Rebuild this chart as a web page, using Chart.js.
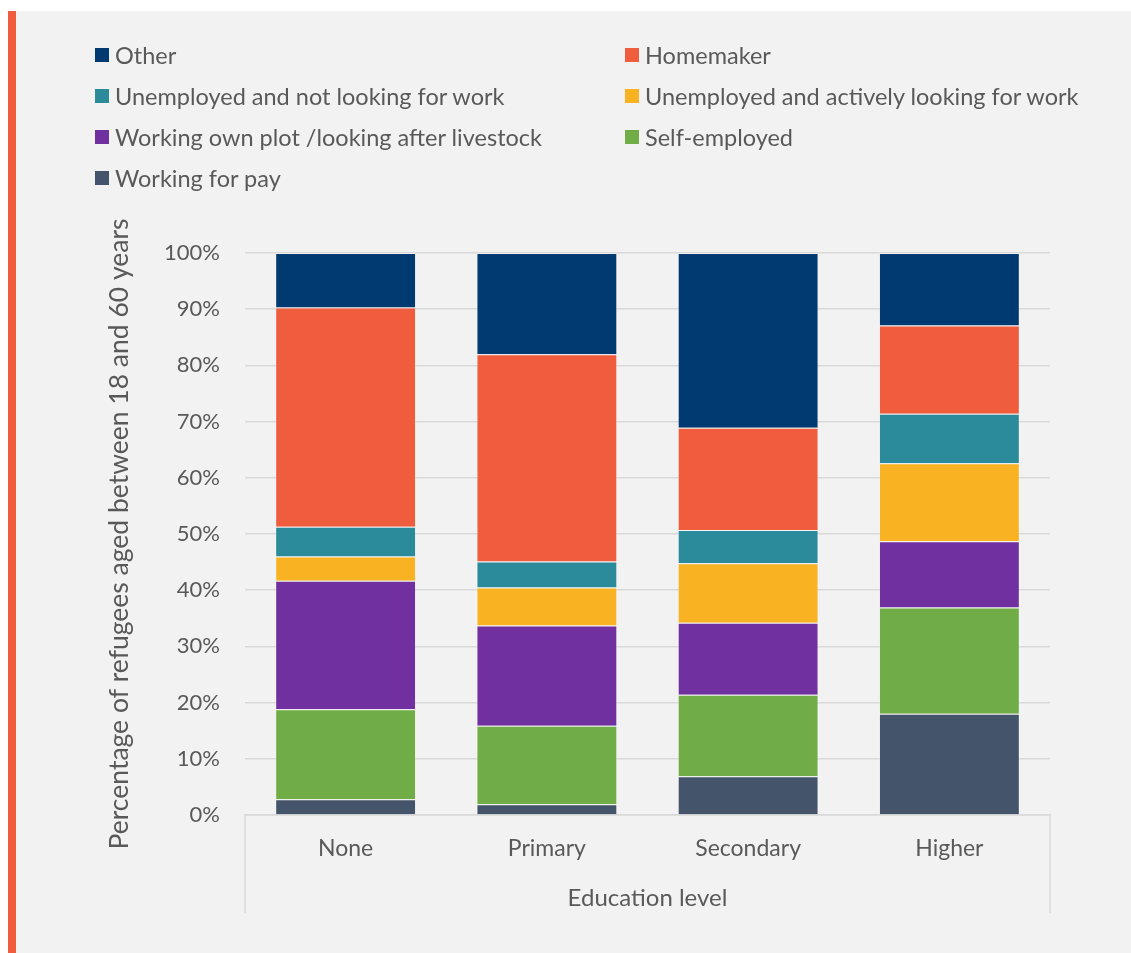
<!DOCTYPE html>
<html lang="en">
<head>
    <meta charset="UTF-8">
    <title>Activity by education level</title>
    <script src="https://cdn.jsdelivr.net/npm/chart.js@4.4.0/dist/chart.umd.min.js"></script>
    <style>
        body { margin: 0; background: #ffffff; font-family: Lato, sans-serif; }
        #stripe { position: absolute; left: 8px; top: 11px; width: 8px; height: 942px; background: #f05d3d; }
        #panel { position: absolute; left: 16px; top: 11px; width: 1115px; height: 942px; background: #f2f2f2; }
        #legend { position: absolute; left: 79px; top: 30px; width: 1030px; }
        .item { position: absolute; display: flex; align-items: center; font-size: 23.5px; color: #595959; white-space: nowrap; }
        .box { width: 14px; height: 14px; margin-right: 6px; }
    </style>
</head>
<body>
    <div id="stripe"></div>
    <div id="panel">
        <canvas id="canvas" width="1115" height="942"></canvas>
        <div id="legend"></div>
    </div>
    <script>
        const levels = ['None', 'Primary', 'Secondary', 'Higher']

        // percentages, bottom to top of each bar
        const workingForPay = [2.8, 1.9, 6.9, 18.0]
        const selfEmployed = [16.0, 14.0, 14.5, 18.9]
        const ownPlot = [22.9, 17.8, 12.8, 11.8]
        const activelyLooking = [4.3, 6.8, 10.6, 13.9]
        const notLooking = [5.3, 4.6, 5.9, 8.8]
        const homemaker = [39.0, 36.9, 18.2, 15.7]
        const other = [9.7, 18.0, 31.1, 12.9]

        const yTicks = [0, 10, 20, 30, 40, 50, 60, 70, 80, 90, 100]

        const series = [
            { label: 'Working for pay', data: workingForPay, color: '#44546a' },
            { label: 'Self-employed', data: selfEmployed, color: '#70ad47' },
            { label: 'Working own plot /looking after livestock', data: ownPlot, color: '#7030a0' },
            { label: 'Unemployed and actively looking for work', data: activelyLooking, color: '#f9b322' },
            { label: 'Unemployed and not looking for work', data: notLooking, color: '#2b8b9b' },
            { label: 'Homemaker', data: homemaker, color: '#f05d3d' },
            { label: 'Other', data: other, color: '#003a70' }
        ]

        const textColor = '#595959'
        const gridColor = '#d9d9d9'

        // legend: two columns, top series first
        const legend = document.getElementById('legend')
        series.slice().reverse().forEach((s, i) => {
            const el = document.createElement('div')
            el.className = 'item'
            el.style.left = (i % 2 === 0 ? 0 : 530) + 'px'
            el.style.top = (Math.floor(i / 2) * 41) + 'px'
            el.innerHTML = '<span class="box" style="background:' + s.color + '"></span>' + s.label
            legend.appendChild(el)
        })

        const categoryLines = {
            id: 'categoryLines',
            afterDraw: (chart) => {
                const ctx = chart.ctx
                const area = chart.chartArea
                ctx.save()
                ctx.strokeStyle = gridColor
                ctx.lineWidth = 1.5
                ctx.beginPath()
                ctx.moveTo(area.left, area.bottom)
                ctx.lineTo(area.left, area.bottom + 98)
                ctx.moveTo(area.right, area.bottom)
                ctx.lineTo(area.right, area.bottom + 98)
                ctx.stroke()
                ctx.restore()
            }
        }

        new Chart(document.getElementById('canvas').getContext('2d'), {
            type: 'bar',
            data: {
                labels: levels,
                datasets: series.map(s => ({
                    label: s.label,
                    data: s.data,
                    backgroundColor: s.color,
                    borderColor: 'rgba(255,255,255,0.3)',
                    borderWidth: 1,
                    categoryPercentage: 1,
                    barPercentage: 0.7
                }))
            },
            options: {
                responsive: false,
                animation: false,
                layout: { padding: { top: 242, right: 81, left: 0, bottom: 0 } },
                plugins: {
                    legend: { display: false },
                    tooltip: { enabled: false }
                },
                scales: {
                    x: {
                        stacked: true,
                        grid: { display: false },
                        border: { display: true, color: gridColor, width: 1.5 },
                        ticks: { color: textColor, padding: 12, font: { family: 'Lato', size: 23 } },
                        title: {
                            display: true,
                            text: 'Education level',
                            color: textColor,
                            font: { family: 'Lato', size: 24 },
                            padding: { top: 0, bottom: 40 }
                        },
                        afterFit: (scale) => { scale.height = 138 }
                    },
                    y: {
                        stacked: true,
                        min: 0,
                        max: 100,
                        afterBuildTicks: (scale) => { scale.ticks = yTicks.map(v => ({ value: v })) },
                        grid: { color: gridColor, lineWidth: 1.5, drawTicks: false },
                        border: { display: false },
                        ticks: {
                            color: textColor,
                            padding: 25,
                            font: { family: 'Lato', size: 22 },
                            callback: (v) => v + '%'
                        },
                        title: {
                            display: true,
                            text: 'Percentage of refugees aged between 18 and 60 years',
                            color: textColor,
                            font: { family: 'Lato', size: 26.5 },
                            padding: { top: 88, bottom: 0 }
                        },
                        afterFit: (scale) => { scale.width = 229 }
                    }
                }
            },
            plugins: [categoryLines]
        })
    </script>
</body>
</html>
